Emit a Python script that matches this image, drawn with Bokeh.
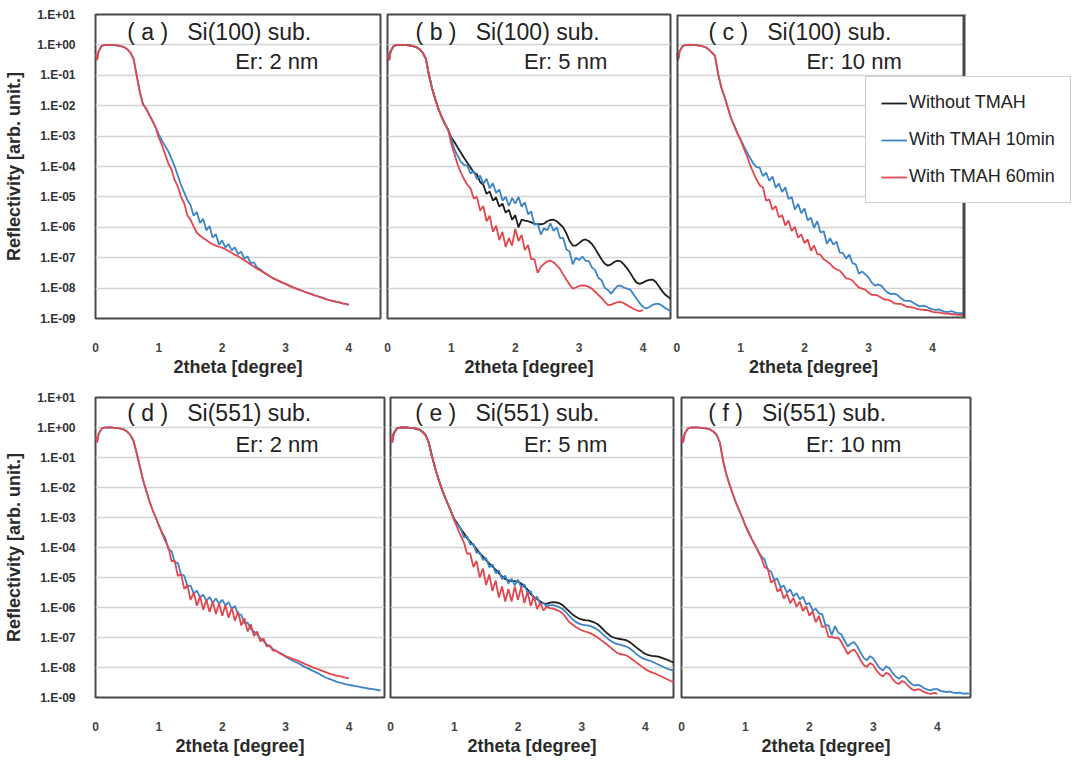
import numpy as np
from bokeh.plotting import figure
from bokeh.models import (Range1d, FixedTicker, CustomJSTickFormatter, Label, Legend,
                          LegendItem, BoxAnnotation)
from bokeh.layouts import column, row
from bokeh.embed import file_html
from bokeh.resources import INLINE

# ---------------- data (log10 of reflectivity) ----------------
X = [0, 0.025, 0.05, 0.1, 0.15, 0.2, 0.25, 0.3, 0.35, 0.4, 0.45, 0.5, 0.55,
     0.6, 0.65, 0.7, 0.75, 0.8, 0.85, 0.9, 0.95,
     1.0, 1.05, 1.1, 1.15, 1.2, 1.25, 1.3, 1.35, 1.4, 1.45,
     1.5, 1.55, 1.6, 1.65, 1.7, 1.75, 1.8, 1.85, 1.9, 1.95,
     2.0, 2.05, 2.1, 2.15, 2.2, 2.25, 2.3, 2.35, 2.4, 2.45,
     2.5, 2.55, 2.6, 2.65, 2.7, 2.75, 2.8, 2.85, 2.9, 2.95,
     3.0, 3.05, 3.1, 3.15, 3.2, 3.25, 3.3, 3.35, 3.4, 3.45,
     3.5, 3.55, 3.6, 3.65, 3.7, 3.75, 3.8, 3.85, 3.9, 3.95,
     4.0, 4.05, 4.1, 4.15, 4.2, 4.25, 4.3, 4.35, 4.4, 4.45,
     4.5]

HEAD = [-0.3, -0.5, -0.2, -0.03, 0.0, 0.0, 0.0, -0.01, -0.02, -0.04, -0.07, -0.14, -0.25]

DROP_A = [-0.45, -1.0, -1.55, -1.95, -2.1, -2.3, -2.5, -2.72]
DROP_B = [-0.45, -1.0, -1.45, -1.8, -2.12, -2.38, -2.6, -2.8]
DROP_C = [-0.35, -0.95, -1.4, -1.7, -2.05, -2.4, -2.65, -2.9]
DROP_D = [-0.45, -0.85, -1.3, -1.75, -2.1, -2.45, -2.75, -3.0]
DROP_E = [-0.5, -0.95, -1.35, -1.7, -2.02, -2.3, -2.55, -2.8]
DROP_F = [-0.5, -1.1, -1.55, -1.9, -2.2, -2.5, -2.75, -3.0]

# (a) Si(100) Er 2 nm
A_BLUE = [-2.94, -3.15, -3.33, -3.5, -3.75, -4.0, -4.3, -4.6, -4.85, -5.1,
          -5.27, -5.62, -5.5, -5.86, -5.72, -6.1, -5.96, -6.34, -6.22, -6.57,
          -6.43, -6.66, -6.55, -6.76, -6.66, -6.88, -6.8, -7.03, -6.96, -7.18,
          -7.15, -7.32, -7.38, -7.47, -7.54, -7.61, -7.67, -7.72, -7.77, -7.82,
          -7.86, -7.91, -7.96, -8.0, -8.04, -8.08, -8.12, -8.16, -8.19, -8.23,
          -8.26, -8.3, -8.33, -8.37, -8.4, -8.42, -8.45, -8.47, -8.5, -8.52,
          -8.54]
A_RED = [-3.05, -3.3, -3.6, -3.9, -4.1, -4.45, -4.65, -5.0, -5.2, -5.6,
         -5.75, -5.98, -6.18, -6.27, -6.35, -6.42, -6.5, -6.56, -6.6, -6.64,
         -6.67, -6.72, -6.78, -6.84, -6.9, -6.95, -7.02, -7.08, -7.15, -7.22,
         -7.29, -7.36, -7.42, -7.48, -7.54, -7.61, -7.67, -7.72, -7.77, -7.82,
         -7.86, -7.91, -7.96, -8.0, -8.04, -8.08, -8.12, -8.16, -8.19, -8.23,
         -8.26, -8.3, -8.33, -8.37, -8.4, -8.42, -8.45, -8.47, -8.5, -8.52,
         -8.55]

# (b) Si(100) Er 5 nm
B_BLACK = [-3.05, -3.2, -3.38, -3.55, -3.72, -3.88, -4.03, -4.2, -4.26, -4.51,
           -4.6, -4.9, -4.82, -5.12, -5.02, -5.32, -5.22, -5.52, -5.42, -5.75,
           -5.6, -6.0, -5.75, -5.78, -5.8, -5.84, -5.88, -5.9, -5.9, -5.88,
           -5.8, -5.76, -5.75, -5.8, -5.9, -6.0, -6.2, -6.45, -6.6, -6.6,
           -6.52, -6.43, -6.4, -6.45, -6.55, -6.7, -6.88, -7.05, -7.2, -7.26,
           -7.22, -7.14, -7.1, -7.12, -7.22, -7.35, -7.5, -7.68, -7.82, -7.86,
           -7.82, -7.76, -7.73, -7.72, -7.8, -7.95, -8.1, -8.22, -8.3, -8.38,
           -8.45]
B_BLUE = [-3.1, -3.45, -3.65, -3.85, -3.95, -3.97, -4.23, -4.15, -4.42, -4.3,
          -4.57, -4.4, -4.72, -4.55, -4.87, -4.76, -5.12, -5.0, -5.3, -5.03,
          -5.22, -5.0, -5.32, -5.18, -5.57, -5.48, -5.92, -5.88, -6.24, -6.03,
          -6.1, -5.87, -6.12, -6.0, -6.35, -6.35, -6.72, -6.8, -7.22, -7.0,
          -7.08, -6.96, -7.1, -7.11, -7.32, -7.41, -7.66, -7.74, -7.99, -8.06,
          -8.18, -8.05, -7.93, -7.92, -7.98, -8.02, -8.05, -8.2, -8.35, -8.5,
          -8.62, -8.67, -8.62, -8.55, -8.52, -8.52, -8.58, -8.66, -8.72, -8.78,
          -8.84]
B_RED = [-3.26, -3.6, -3.95, -4.2, -4.42, -4.6, -4.72, -5.05, -5.0, -5.45,
         -5.3, -5.8, -5.62, -6.15, -5.95, -6.42, -6.15, -6.65, -6.35, -6.6,
         -6.05, -6.45, -6.25, -6.75, -6.58, -7.05, -7.05, -7.5, -7.3, -7.2,
         -7.12, -7.1, -7.15, -7.25, -7.37, -7.55, -7.72, -7.88, -8.02, -7.98,
         -7.93, -7.91, -7.92, -7.96, -8.02, -8.12, -8.22, -8.32, -8.45, -8.55,
         -8.55, -8.5, -8.46, -8.45, -8.5, -8.56, -8.62, -8.68, -8.73, -8.76,
         -8.72]

# (c) Si(100) Er 10 nm
C_BLUE = [-3.1, -3.32, -3.52, -3.72, -3.9, -4.02, -4.04, -4.32, -4.2, -4.47,
          -4.33, -4.7, -4.56, -4.84, -4.68, -5.07, -5.0, -5.42, -5.23, -5.54,
          -5.38, -5.77, -5.68, -6.02, -5.8, -6.17, -6.13, -6.54, -6.36, -6.57,
          -6.47, -6.83, -6.84, -7.03, -6.9, -7.18, -7.22, -7.53, -7.45, -7.55,
          -7.65, -7.82, -7.92, -7.88, -7.92, -8.05, -8.15, -8.2, -8.18, -8.22,
          -8.32, -8.4, -8.42, -8.42, -8.48, -8.55, -8.6, -8.58, -8.6, -8.66,
          -8.7, -8.72, -8.7, -8.75, -8.78, -8.78, -8.76, -8.8, -8.82, -8.82,
          -8.82]
C_RED = [-3.12, -3.4, -3.65, -3.95, -4.2, -4.42, -4.62, -4.68, -5.12, -5.08,
         -5.42, -5.3, -5.67, -5.6, -5.94, -5.78, -6.12, -5.98, -6.34, -6.23,
         -6.52, -6.4, -6.77, -6.6, -6.88, -6.9, -7.05, -7.12, -7.2, -7.32,
         -7.38, -7.42, -7.55, -7.68, -7.7, -7.75, -7.88, -7.98, -8.02, -8.05,
         -8.15, -8.22, -8.22, -8.25, -8.32, -8.38, -8.38, -8.42, -8.5, -8.52,
         -8.52, -8.56, -8.62, -8.62, -8.64, -8.68, -8.7, -8.72, -8.72, -8.74,
         -8.78, -8.8, -8.8, -8.82, -8.84, -8.84, -8.86, -8.86, -8.88, -8.88,
         -8.9]

# (d) Si(551) Er 2 nm
D_BLUE = [-3.25, -3.5, -3.68, -4.06, -4.12, -4.48, -4.52, -4.9, -4.94, -5.28,
          -5.27, -5.53, -5.44, -5.66, -5.57, -5.78, -5.65, -5.84, -5.7, -5.88,
          -5.74, -5.93, -5.82, -6.04, -5.95, -6.23, -6.24, -6.53, -6.5, -6.72,
          -6.8, -6.9, -7.02, -7.12, -7.22, -7.3, -7.38, -7.45, -7.5, -7.56,
          -7.64, -7.7, -7.76, -7.81, -7.86, -7.92, -7.98, -8.03, -8.08, -8.13,
          -8.18, -8.24, -8.3, -8.35, -8.39, -8.43, -8.47, -8.5, -8.53, -8.56,
          -8.58, -8.6, -8.62, -8.64, -8.66, -8.68, -8.7, -8.71, -8.73, -8.75,
          -8.76]
D_RED = [-3.27, -3.52, -3.78, -3.98, -4.45, -4.45, -4.95, -4.88, -5.38, -5.25,
         -5.75, -5.5, -5.94, -5.62, -6.08, -5.74, -6.15, -5.8, -6.22, -5.86,
         -6.28, -5.92, -6.34, -6.0, -6.44, -6.14, -6.6, -6.36, -6.8, -6.56,
         -6.95, -6.8, -7.13, -7.03, -7.3, -7.26, -7.44, -7.44, -7.52, -7.57,
         -7.62, -7.66, -7.7, -7.74, -7.78, -7.83, -7.88, -7.92, -7.97, -8.01,
         -8.05, -8.09, -8.13, -8.17, -8.21, -8.24, -8.27, -8.29, -8.31, -8.34,
         -8.36]

# (e) Si(551) Er 5 nm
E_BLACK = [-3.05, -3.2, -3.38, -3.52, -3.68, -3.8, -3.92, -4.05, -4.2, -4.3,
           -4.42, -4.54, -4.64, -4.74, -4.86, -4.96, -5.05, -5.1, -5.12, -5.12,
           -5.14, -5.2, -5.3, -5.4, -5.55, -5.65, -5.72, -5.8, -5.86, -5.88,
           -5.84, -5.82, -5.83, -5.86, -5.92, -6.02, -6.12, -6.22, -6.3, -6.36,
           -6.4, -6.42, -6.43, -6.46, -6.5, -6.56, -6.65, -6.76, -6.86, -6.95,
           -7.0, -7.03, -7.05, -7.07, -7.09, -7.15, -7.23, -7.32, -7.4, -7.48,
           -7.55, -7.59, -7.61, -7.62, -7.64, -7.67, -7.71, -7.75, -7.8, -7.84,
           -7.88]
E_BLUE = [-3.08, -3.25, -3.35, -3.66, -3.62, -3.9, -3.88, -4.18, -4.15, -4.42,
          -4.35, -4.66, -4.56, -4.86, -4.76, -5.06, -4.94, -5.2, -5.04, -5.26,
          -5.07, -5.32, -5.22, -5.52, -5.45, -5.75, -5.64, -5.9, -5.84, -5.98,
          -5.92, -5.92, -5.95, -5.99, -6.05, -6.15, -6.27, -6.38, -6.47, -6.53,
          -6.57, -6.59, -6.6, -6.63, -6.68, -6.74, -6.83, -6.93, -7.02, -7.11,
          -7.17, -7.21, -7.24, -7.27, -7.3, -7.36, -7.44, -7.54, -7.62, -7.69,
          -7.73, -7.76, -7.8, -7.85, -7.9, -7.95, -8.0, -8.05, -8.08, -8.11,
          -8.15]
E_RED = [-3.1, -3.35, -3.6, -3.82, -4.2, -4.2, -4.65, -4.45, -5.0, -4.7,
         -5.25, -4.9, -5.45, -5.1, -5.67, -5.3, -5.8, -5.38, -5.8, -5.3,
         -5.74, -5.32, -5.85, -5.48, -5.95, -5.62, -6.05, -5.85, -6.1, -5.98,
         -6.02, -6.04, -6.08, -6.12, -6.2, -6.32, -6.48, -6.56, -6.64, -6.7,
         -6.76, -6.8, -6.83, -6.87, -6.93, -7.0, -7.08, -7.16, -7.24, -7.33,
         -7.42, -7.5, -7.55, -7.57, -7.6, -7.66, -7.74, -7.82, -7.9, -7.98,
         -8.06, -8.12, -8.16, -8.2, -8.25, -8.3, -8.35, -8.4, -8.45, -8.49,
         -8.53]

# (f) Si(551) Er 10 nm
F_BLUE = [-3.27, -3.5, -3.72, -3.92, -4.12, -4.3, -4.4, -4.74, -4.8, -5.08,
          -5.04, -5.33, -5.27, -5.5, -5.4, -5.63, -5.52, -5.73, -5.64, -5.9,
          -5.84, -6.1, -6.04, -6.2, -6.22, -6.58, -6.6, -6.92, -6.62, -6.83,
          -6.9, -7.1, -7.3, -7.2, -7.15, -7.3, -7.5, -7.68, -7.76, -7.62,
          -7.7, -7.88, -8.02, -8.1, -7.96, -8.02, -8.18, -8.3, -8.38, -8.28,
          -8.32, -8.45, -8.55, -8.6, -8.58, -8.62, -8.7, -8.74, -8.76, -8.72,
          -8.72, -8.78, -8.8, -8.82, -8.8, -8.84, -8.85, -8.84, -8.87, -8.86,
          -8.87]
F_RED = [-3.27, -3.5, -3.72, -3.92, -4.14, -4.35, -4.66, -4.7, -5.17, -5.08,
         -5.47, -5.36, -5.7, -5.54, -5.86, -5.68, -5.98, -5.8, -6.12, -5.96,
         -6.27, -6.13, -6.49, -6.28, -6.65, -6.62, -6.98, -6.98, -7.02, -7.0,
         -7.15, -7.35, -7.55, -7.45, -7.4, -7.55, -7.75, -7.92, -7.98, -7.85,
         -7.92, -8.1, -8.22, -8.3, -8.18, -8.22, -8.38, -8.5, -8.55, -8.45,
         -8.5, -8.62, -8.72, -8.76, -8.72, -8.76, -8.82, -8.86, -8.88, -8.85,
         -8.87]

Y_TICKS = [1e-9, 1e-8, 1e-7, 1e-6, 1e-5, 1e-4, 1e-3, 1e-2, 1e-1, 1e0, 1e1]
X_TICKS = [0, 1, 2, 3, 4]
SERIES = ["Without TMAH", "With TMAH 10min", "With TMAH 60min"]
X_TITLE = "2theta [degree]"
Y_TITLE = "Reflectivity [arb. unit.]"
PANEL_TAGS = ["a", "b", "c", "d", "e", "f"]
SUBSTRATES = ["Si(100)", "Si(100)", "Si(100)", "Si(551)", "Si(551)", "Si(551)"]
ER_TEXT = ["Er: 2 nm", "Er: 5 nm", "Er: 10 nm", "Er: 2 nm", "Er: 5 nm", "Er: 10 nm"]

# ---------------- styling ----------------
FONT = "Liberation Sans"
BLACK, BLUE, RED = "#1e1e1e", "#3d84c6", "#e2474e"
FRAME_COLOR = "#484848"
LW = 1.8
N_TAIL = len(X) - len(HEAD) - 8
X_END = 4.5
NB = "\u00a0"


def to_y(drop, tail):
    vals = HEAD + drop + tail + [None] * (N_TAIL - len(tail))
    return np.array([np.nan if v is None else 10.0 ** v for v in vals])


def panel(width, height, bl, br, bt, bb, xmax, show_y, wide=False):
    p = figure(width=width, height=height, x_range=Range1d(0, xmax),
               y_range=Range1d(1e-9, 10), y_axis_type="log",
               output_backend="svg", toolbar_location=None,
               min_border_left=bl, min_border_right=br,
               min_border_top=bt, min_border_bottom=bb)
    p.outline_line_color = None if wide else FRAME_COLOR
    p.outline_line_width = 2
    p.background_fill_color = "white"
    p.border_fill_color = "white"
    p.xgrid.visible = False
    p.ygrid.ticker = FixedTicker(ticks=Y_TICKS)
    p.ygrid.grid_line_color = "#d4d4d4"
    p.ygrid.grid_line_width = 1.5

    xa = p.xaxis[0]
    xa.ticker = FixedTicker(ticks=X_TICKS)
    xa.axis_line_color = None
    xa.major_tick_line_color = None
    xa.minor_tick_line_color = None
    xa.major_label_standoff = 18
    xa.major_label_text_font = FONT
    xa.major_label_text_font_style = "bold"
    xa.major_label_text_font_size = "12px"
    xa.major_label_text_color = "#444444"
    # the wide panel's label is padded (no-break spaces) so it sits under the 0-4.5 frame
    xa.axis_label = X_TITLE + (NB * 26 if wide else "")
    xa.axis_label_text_font = FONT
    xa.axis_label_text_font_style = "bold"
    xa.axis_label_text_font_size = "18px"
    xa.axis_label_text_color = "#2a2a2a"
    xa.axis_label_standoff = 2

    ya = p.yaxis[0]
    if show_y:
        ya.ticker = FixedTicker(ticks=Y_TICKS)
        ya.formatter = CustomJSTickFormatter(code="""
            const e = Math.round(Math.log10(tick));
            const s = e < 0 ? '-' : '+';
            const a = Math.abs(e);
            return '1.E' + s + (a < 10 ? '0' + a : '' + a);
        """)
        ya.axis_line_color = None
        ya.major_tick_line_color = None
        ya.minor_tick_line_color = None
        ya.major_label_standoff = 14
        ya.major_label_text_font = FONT
        ya.major_label_text_font_style = "bold"
        ya.major_label_text_font_size = "12px"
        ya.major_label_text_color = "#333333"
        ya.axis_label = Y_TITLE
        ya.axis_label_text_font = FONT
        ya.axis_label_text_font_style = "bold"
        ya.axis_label_text_font_size = "18px"
        ya.axis_label_text_color = "#2a2a2a"
        ya.axis_label_standoff = 10
    else:
        ya.visible = False

    if wide:
        # frame drawn around the 0..4.5 part only; the rest is left blank for the legend
        p.add_layout(BoxAnnotation(right=X_END, fill_alpha=0, line_color=FRAME_COLOR,
                                   line_alpha=1.0, line_width=4))
        p.add_layout(BoxAnnotation(left=X_END + 0.016, fill_color="white", fill_alpha=1.0,
                                   line_alpha=0))
    return p


def titles(p, i, x1, y1, x2, y2):
    t1 = "( " + PANEL_TAGS[i] + " )" + NB + NB + " " + SUBSTRATES[i] + " sub."
    p.add_layout(Label(x=x1, y=y1, text=t1, text_font=FONT, text_font_size="23px",
                       text_color="#222222", text_baseline="middle", text_align="left"))
    p.add_layout(Label(x=x2, y=y2, text=ER_TEXT[i], text_font=FONT, text_font_size="22px",
                       text_color="#222222", text_baseline="middle", text_align="right"))


def draw(p, drop, black=None, blue=None, red=None):
    out = {}
    if black is not None:
        out["k"] = p.line(X, to_y(drop, black), line_color=BLACK, line_width=LW)
    if blue is not None:
        out["b"] = p.line(X, to_y(drop, blue), line_color=BLUE, line_width=LW)
    if red is not None:
        out["r"] = p.line(X, to_y(drop, red), line_color=RED, line_width=LW)
    return out


# Row 1 (frames: a 95-380, b 387-670, c 676-964; y 14-323)
fa = panel(383, 379, 95, 3, 14, 56, 4.5, True)
fb = panel(290, 379, 4, 3, 14, 56, 4.43, False)
fc = panel(407, 379, 3, 0, 14, 56, 4.5 * 404 / 288, False, wide=True)
# Row 2 (frames: d 95-384, e 390-673, f 681-970; y 397-701)
fd = panel(386, 379, 95, 2, 18, 57, 4.56, True)
fe = panel(291, 379, 4, 4, 18, 57, 4.44, False)
ff = panel(403, 379, 4, 110, 18, 57, 4.52, False)

draw(fa, DROP_A, blue=A_BLUE, red=A_RED)
draw(fb, DROP_B, black=B_BLACK, blue=B_BLUE, red=B_RED)
rc = draw(fc, DROP_C, blue=C_BLUE, red=C_RED)
draw(fd, DROP_D, blue=D_BLUE, red=D_RED)
draw(fe, DROP_E, black=E_BLACK, blue=E_BLUE, red=E_RED)
draw(ff, DROP_F, blue=F_BLUE, red=F_RED)

# legend-only renderer for the black series (a single undefined point draws nothing)
r_black_leg = fc.line(x=[np.nan], y=[np.nan], line_color=BLACK, line_width=LW)

titles(fa, 0, 0.5, 2.6, 3.52, 0.28)
titles(fb, 1, 0.44, 2.6, 3.44, 0.28)
titles(fc, 2, 0.5, 2.6, 3.52, 0.28)
titles(fd, 3, 0.5, 2.98, 3.52, 0.264)
titles(fe, 4, 0.39, 2.98, 3.4, 0.264)
titles(ff, 5, 0.42, 2.98, 3.44, 0.264)

legend = Legend(items=[LegendItem(label=SERIES[0], renderers=[r_black_leg]),
                       LegendItem(label=SERIES[1], renderers=[rc["b"]]),
                       LegendItem(label=SERIES[2], renderers=[rc["r"]])],
                location=(189, 115))
legend.label_text_font = FONT
legend.label_text_font_size = "18px"
legend.label_text_color = "#222222"
legend.glyph_width = 26
legend.glyph_height = 20
legend.label_height = 20
legend.label_standoff = 2
legend.spacing = 16
legend.padding = 15
legend.margin = 0
legend.border_line_color = "#a0a0a0"
legend.border_line_width = 1
legend.background_fill_color = "white"
legend.background_fill_alpha = 1.0
fc.add_layout(legend)

layout = column(row(fa, fb, fc), row(fd, fe, ff))
open("out.html", "w").write(file_html(layout, INLINE))
